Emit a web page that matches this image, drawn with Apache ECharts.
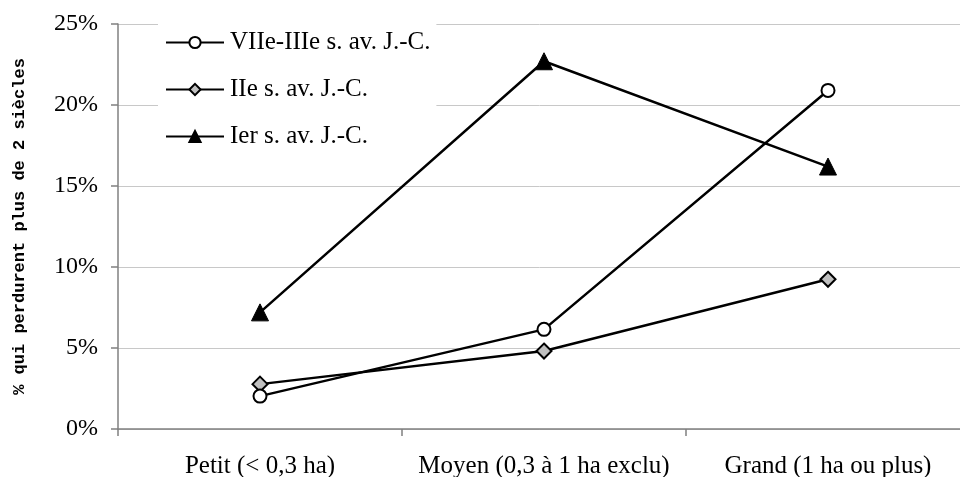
<!DOCTYPE html>
<html>
<head>
<meta charset="utf-8">
<script src="https://cdn.jsdelivr.net/npm/echarts@6/dist/echarts.min.js"></script>
<style>html,body{margin:0;padding:0;background:#fff;}#c{width:960px;height:477px;}</style>
</head>
<body>
<div id="c"></div>
<script>
var categories = ['Petit (< 0,3 ha)', 'Moyen (0,3 à 1 ha exclu)', 'Grand (1 ha ou plus)'];
var seriesNames = ['VIIe-IIIe s. av. J.-C.', 'IIe s. av. J.-C.', 'Ier s. av. J.-C.'];
var valsVII = [2.03, 6.15, 20.9];
var valsII = [2.77, 4.81, 9.24];
var valsIer = [7.2, 22.7, 16.2];
var yTicks = [0, 5, 10, 15, 20, 25];
var yName = '% qui perdurent plus de 2 siècles';

var serif = '"Liberation Serif", "Times New Roman", serif';
var chart = echarts.init(document.getElementById('c'), null, {renderer: 'canvas'});
var lineStyle = {color: '#000', width: 2.5};
chart.setOption({
  animation: false,
  backgroundColor: '#fff',
  grid: {left: 118, width: 852, top: 24, bottom: 48, containLabel: false, outerBoundsMode: 'none'},
  legend: {
    orient: 'vertical', left: 158, top: 17,
    backgroundColor: '#fff',
    padding: [13, 6, 6, 7],
    itemWidth: 58, itemHeight: 14, itemGap: 22,
    textStyle: {fontFamily: serif, fontSize: 25, color: '#000', padding: [0, 0, 0, 1]},
    data: seriesNames
  },
  xAxis: {
    type: 'category', data: categories, boundaryGap: true,
    axisLine: {lineStyle: {color: '#808080', width: 1.5}},
    axisTick: {show: true, length: 7, inside: false, interval: 0, lineStyle: {color: '#808080', width: 1.5}},
    axisLabel: {fontFamily: serif, fontSize: 25, color: '#000', margin: 25, interval: 0},
    splitLine: {show: false}
  },
  yAxis: {
    type: 'value', min: yTicks[0], max: yTicks[yTicks.length - 1], interval: 5,
    name: yName, nameLocation: 'middle', nameRotate: 90, nameGap: 90,
    nameTextStyle: {fontFamily: '"Liberation Mono", "Courier New", monospace', fontWeight: 'bold', fontSize: 17, color: '#000'},
    axisLine: {show: true, lineStyle: {color: '#808080', width: 1.5}},
    axisTick: {show: true, length: 7, inside: false, lineStyle: {color: '#808080', width: 1.5}},
    axisLabel: {fontFamily: serif, fontSize: 24, color: '#000', margin: 20, formatter: function (v) { return v + '%'; }},
    splitLine: {show: true, lineStyle: {color: '#c8c8c8', width: 1}}
  },
  series: [
    {name: seriesNames[0], type: 'line', data: valsVII, symbol: 'circle', symbolSize: 13,
      lineStyle: lineStyle, itemStyle: {color: '#fff', borderColor: '#000', borderWidth: 2}, z: 3},
    {name: seriesNames[1], type: 'line', data: valsII, symbol: 'diamond', symbolSize: 15,
      lineStyle: lineStyle, itemStyle: {color: '#c0c0c0', borderColor: '#000', borderWidth: 2}, z: 2},
    {name: seriesNames[2], type: 'line', data: valsIer, symbol: 'triangle', symbolSize: 17,
      lineStyle: lineStyle, itemStyle: {color: '#000', borderColor: '#000', borderWidth: 1}, z: 4}
  ]
});
</script>
</body>
</html>
